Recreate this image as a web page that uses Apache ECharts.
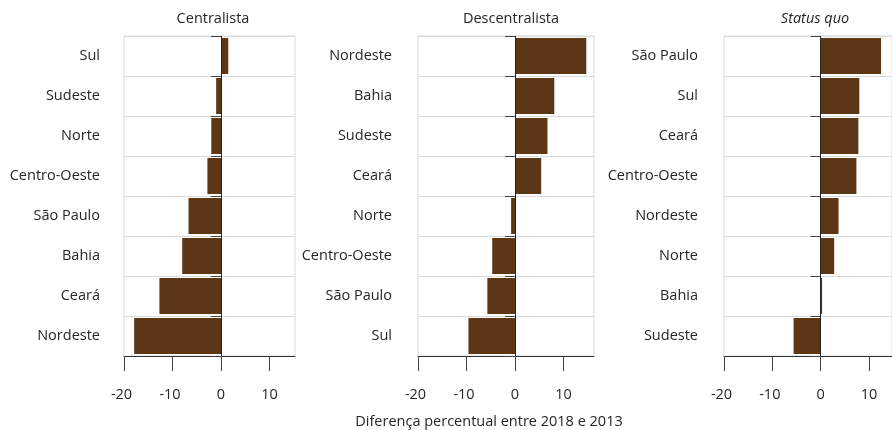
<!DOCTYPE html>
<html>
<head>
<meta charset="utf-8">
<script src="https://cdn.jsdelivr.net/npm/echarts@6/dist/echarts.min.js"></script>
<style>
  html, body { margin: 0; padding: 0; background: #fff; }
  #chart { width: 892px; height: 430px; }
</style>
</head>
<body>
<div id="chart"></div>
<script>
// Change in percentage points between 2013 and 2018, by region, per position
const categoriesCentralista = ['Sul', 'Sudeste', 'Norte', 'Centro-Oeste', 'São Paulo', 'Bahia', 'Ceará', 'Nordeste'];
const valuesCentralista = [1.5, -1.0, -2.0, -2.8, -6.7, -8.0, -12.7, -17.9];

const categoriesDescentralista = ['Nordeste', 'Bahia', 'Sudeste', 'Ceará', 'Norte', 'Centro-Oeste', 'São Paulo', 'Sul'];
const valuesDescentralista = [14.7, 8.1, 6.7, 5.4, -0.8, -4.7, -5.7, -9.6];

const categoriesStatusQuo = ['São Paulo', 'Sul', 'Ceará', 'Centro-Oeste', 'Nordeste', 'Norte', 'Bahia', 'Sudeste'];
const valuesStatusQuo = [12.5, 8.0, 7.8, 7.4, 3.7, 2.8, 0.3, -5.6];

const tickValues = [-20, -10, 0, 10];
const panelTitles = ['Centralista', 'Descentralista', 'Status quo'];
const axisTitle = 'Diferença percentual entre 2018 e 2013';

const FONT = '"Open Sans", "Noto Sans", sans-serif';
const FONT_SIZE = 14.5;
const TEXT = '#262626';
const BAR = '#5c3615';
const GRIDLINE = '#d9d9d9';
const PX_PER_UNIT = 4.85;

// panel frames: left edge, width, y-label margin, title centre
// (the last panel runs to the right edge of the canvas)
const panels = [
  { cats: categoriesCentralista, vals: valuesCentralista, left: 124, width: 171, labelMargin: 24, titleX: 213 },
  { cats: categoriesDescentralista, vals: valuesDescentralista, left: 418, width: 176, labelMargin: 26, titleX: 511 },
  { cats: categoriesStatusQuo, vals: valuesStatusQuo, left: 724, width: 168.6, labelMargin: 26, titleX: 815 }
];

const grid = [], xAxis = [], yAxis = [], series = [], graphic = [];

panels.forEach((p, i) => {
  grid.push({
    left: p.left, width: p.width, top: 36, height: 320,
    show: true, borderColor: GRIDLINE, borderWidth: 1, backgroundColor: 'transparent'
  });
  xAxis.push({
    type: 'value', gridIndex: i,
    min: -20, max: +(p.width / PX_PER_UNIT - 20).toFixed(3),
    axisLine: { show: true, lineStyle: { color: '#333', width: 1 } },
    axisTick: { show: true, length: 15, lineStyle: { color: '#444' }, customValues: tickValues },
    axisLabel: {
      show: true, customValues: tickValues, margin: 31,
      color: TEXT, fontFamily: FONT, fontSize: FONT_SIZE,
      formatter: v => (v < 0 ? '{neg|' + v + '}' : String(v)),
      rich: {
        neg: { color: TEXT, fontFamily: FONT, fontSize: FONT_SIZE, padding: [0, 5, 0, 0] }
      }
    },
    splitLine: { show: false }
  });
  yAxis.push({
    type: 'category', gridIndex: i, data: p.cats, inverse: true,
    axisLine: { show: false },
    axisTick: { show: true, length: 10, inside: false, lineStyle: { color: '#444' } },
    axisLabel: { color: TEXT, fontFamily: FONT, fontSize: FONT_SIZE, margin: p.labelMargin },
    splitLine: { show: true, lineStyle: { color: GRIDLINE, width: 1 } }
  });
  series.push({
    type: 'bar', xAxisIndex: i, yAxisIndex: i, data: p.vals,
    barCategoryGap: '10%',
    itemStyle: { color: BAR },
    silent: true,
    markLine: {
      silent: true, symbol: 'none', animation: false,
      label: { show: false },
      lineStyle: { color: '#222', width: 1, type: 'solid' },
      data: [{ xAxis: 0 }]
    }
  });
  graphic.push({
    type: 'text',
    style: {
      text: panelTitles[i], fill: TEXT,
      font: (i === 2 ? 'italic ' : '') + FONT_SIZE + 'px ' + FONT,
      align: 'center', verticalAlign: 'middle', x: p.titleX, y: 19
    }
  });
});

graphic.push({
  type: 'text',
  style: {
    text: axisTitle, fill: TEXT, font: FONT_SIZE + 'px ' + FONT,
    align: 'center', verticalAlign: 'middle', x: 489, y: 422
  }
});

const chart = echarts.init(document.getElementById('chart'), null, { renderer: 'canvas' });
chart.setOption({
  animation: false,
  backgroundColor: '#fff',
  grid, xAxis, yAxis, series, graphic
});
</script>
</body>
</html>
